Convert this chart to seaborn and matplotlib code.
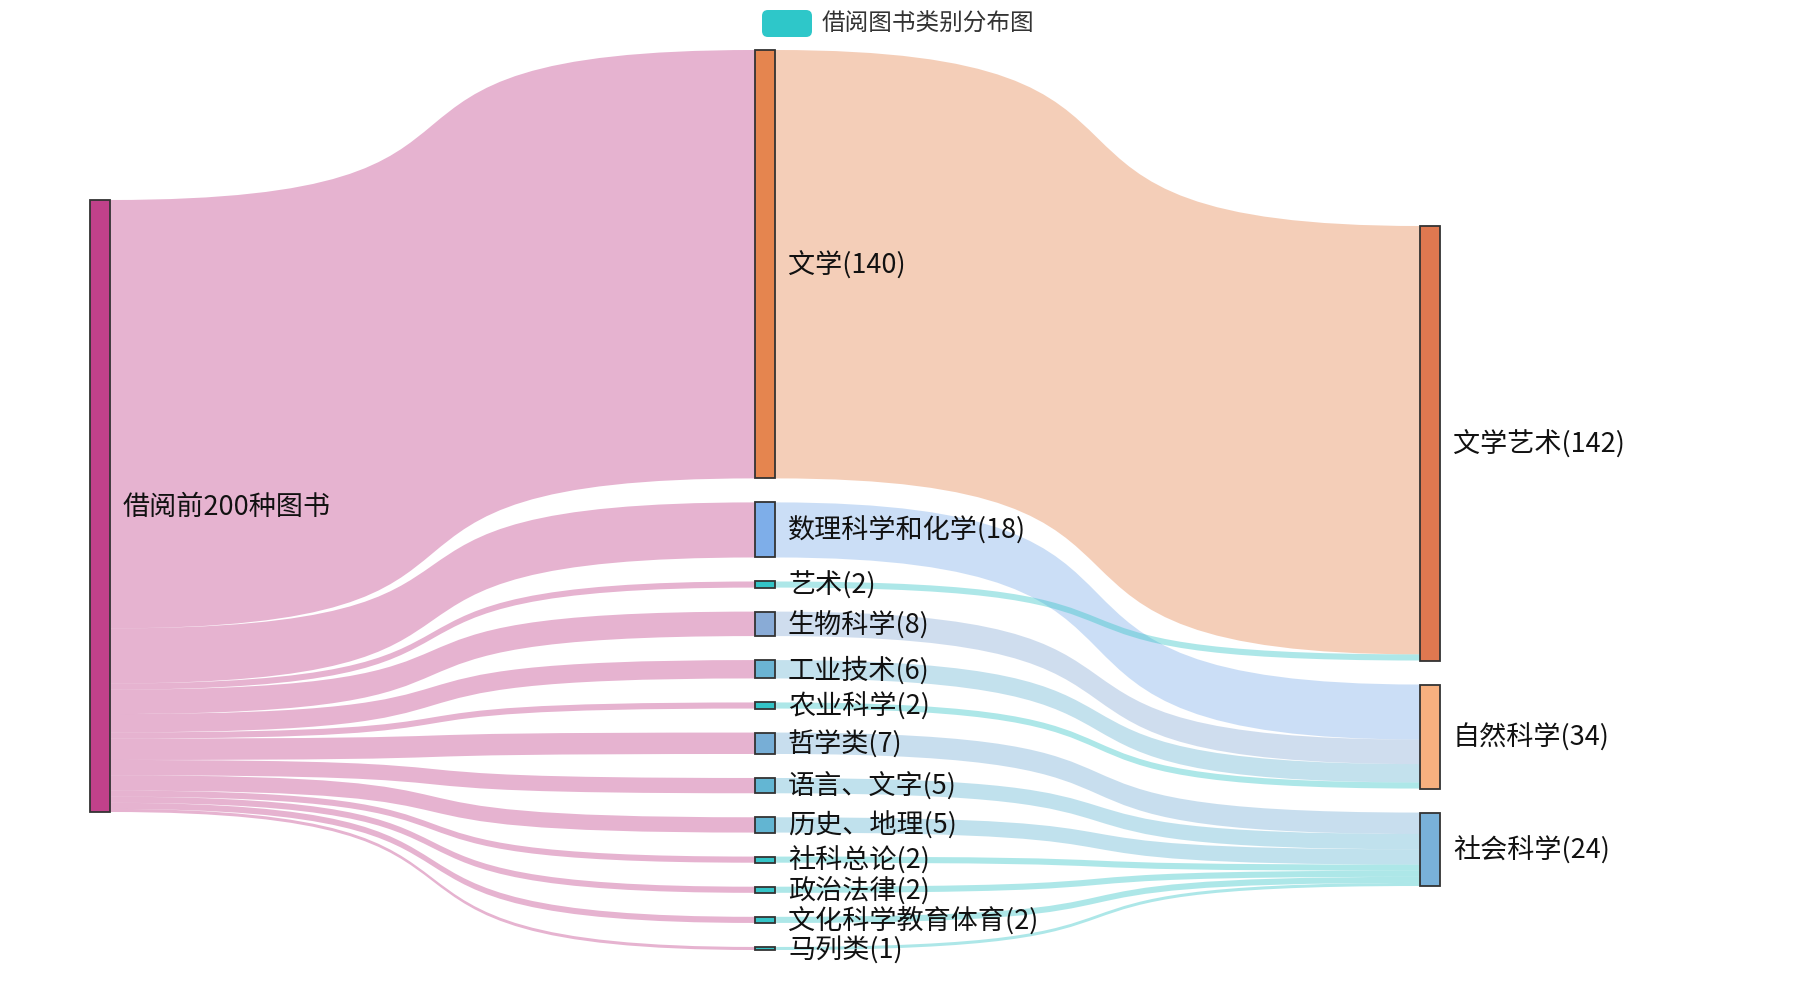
import numpy as np
import pandas as pd
import seaborn as sns
from matplotlib import pyplot as plt
from matplotlib.path import Path
from matplotlib.patches import PathPatch, Rectangle, FancyBboxPatch

# data
root = "借阅前200种图书"
categories = ["文学", "数理科学和化学", "艺术", "生物科学", "工业技术", "农业科学", "哲学类",
              "语言、文字", "历史、地理", "社科总论", "政治法律", "文化科学教育体育", "马列类"]
counts = [140, 18, 2, 8, 6, 2, 7, 5, 5, 2, 2, 2, 1]
groups = ["文学艺术", "自然科学", "文学艺术", "自然科学", "自然科学", "自然科学", "社会科学",
          "社会科学", "社会科学", "社会科学", "社会科学", "社会科学", "社会科学"]
group_order = ["文学艺术", "自然科学", "社会科学"]
legend_label = "借阅图书类别分布图"

root_color = "#c1418a"
category_colors = ["#e5854f", "#7eaee9", "#34c4c7", "#89abd6", "#6bb4d3", "#33c3c6", "#77aed6",
                   "#63b6d3", "#62b5d2", "#34c4c7", "#34c4c7", "#34c4c7", "#34c4c7"]
group_colors = ["#df7850", "#f7b07f", "#79b1d9"]

# links table
links = pd.concat([
    pd.DataFrame({"source": root, "target": categories, "value": counts}),
    pd.DataFrame({"source": categories, "target": groups, "value": counts}),
], ignore_index=True)

columns = [[root], categories, group_order]
colors = {root: root_color}
colors.update(dict(zip(categories, category_colors)))
colors.update(dict(zip(group_order, group_colors)))

# layout (pixel space)
col_x = [90, 755, 1420]
col_top = [200, 50, 226]
node_w = 20
gap = 24
k = 3.06      # px per book
curve = 0.72  # control point position along the link

node_val = links.groupby("target")["value"].sum().to_dict()
node_val[root] = links.loc[links.source == root, "value"].sum()

pos = {}
for ci, names in enumerate(columns):
    y = col_top[ci]
    for n in names:
        h = node_val[n] * k
        pos[n] = (col_x[ci], y, h)
        y += h + gap

sns.set_theme(style="white")
plt.rcParams['font.family'] = ['Noto Sans CJK SC', 'DejaVu Sans']

fig = plt.figure(figsize=(18, 10), dpi=100)
ax = fig.add_axes([0, 0, 1, 1])
ax.set_xlim(0, 1800)
ax.set_ylim(1000, 0)
ax.axis("off")

out_off = {n: 0.0 for n in pos}
in_off = {n: 0.0 for n in pos}
order = {n: i for names in columns for i, n in enumerate(names)}

# sort so stacking follows node order
links["s_ord"] = links.source.map(order)
links["t_ord"] = links.target.map(order)
for _, r in links.sort_values(["s_ord", "t_ord"]).iterrows():
    sx, sy, _ = pos[r.source]
    tx, ty, _ = pos[r.target]
    w = r.value * k
    x0 = sx + node_w
    x1 = tx
    ya = sy + out_off[r.source]
    out_off[r.source] += w
    yb = ty + in_off[r.target]
    in_off[r.target] += w
    c1 = x0 + (x1 - x0) * curve
    c2 = x1 - (x1 - x0) * curve
    verts = [(x0, ya), (c1, ya), (c2, yb), (x1, yb),
             (x1, yb + w), (c2, yb + w), (c1, ya + w), (x0, ya + w), (x0, ya)]
    codes = [Path.MOVETO, Path.CURVE4, Path.CURVE4, Path.CURVE4,
             Path.LINETO, Path.CURVE4, Path.CURVE4, Path.CURVE4, Path.CLOSEPOLY]
    ax.add_patch(PathPatch(Path(verts, codes), facecolor=colors[r.source], alpha=0.4,
                           edgecolor="none", zorder=1))

# nodes and labels
for n, (x, y, h) in pos.items():
    ax.add_patch(Rectangle((x, y), node_w, h, facecolor=colors[n], edgecolor="#333333",
                           linewidth=1.3, zorder=3))
    label = n if n == root else f"{n}({node_val[n]})"
    ax.text(x + node_w + 13, y + h / 2 + 1, label, fontsize=19.5, fontweight="light",
            color="#111111", va="center", ha="left", zorder=4)

# legend
ax.add_patch(FancyBboxPatch((762, 10), 50, 27, boxstyle="round,pad=0,rounding_size=6",
                            facecolor="#2ec7c9", edgecolor="none", zorder=4))
ax.text(822, 24, legend_label, fontsize=17, color="#333333", va="center", ha="left")

fig.savefig("out.png", dpi=100)
